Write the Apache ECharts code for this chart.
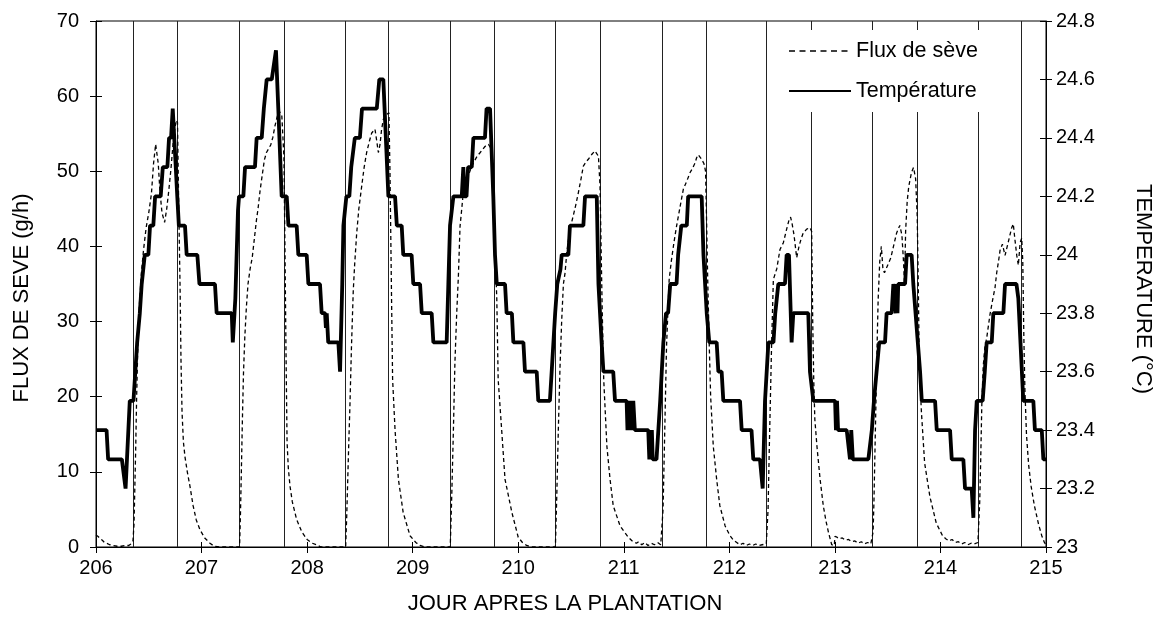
<!DOCTYPE html>
<html>
<head>
<meta charset="utf-8">
<script src="https://cdn.jsdelivr.net/npm/echarts@6.0.0/dist/echarts.min.js"></script>
<style>html,body{margin:0;padding:0;background:#fff}#chart{width:1168px;height:633px}</style>
</head>
<body>
<div id="chart"></div>
<script>
// ---------- tick labels ----------
const xTicks = [206, 207, 208, 209, 210, 211, 212, 213, 214, 215];
const leftTicks = ['0', '10', '20', '30', '40', '50', '60', '70'];
const rightTicks = ['23', '23.2', '23.4', '23.6', '23.8', '24', '24.2', '24.4', '24.6', '24.8'];

// ---------- sunrise / sunset (vertical lines) ----------
const sunrise = [206.353, 207.358, 208.359, 209.357, 210.351, 211.359, 212.354, 213.355, 214.359];
const sunset  = [206.770, 207.775, 208.769, 209.774, 210.778, 211.776, 212.780, 213.775, 214.770];

// ---------- sap flux (g/h), [day, value] ----------
const sap206 = [[206.00,1.6],[206.02,1.4],[206.04,1.1],[206.06,0.9],[206.08,0.6],[206.10,0.5],[206.13,0.3],[206.16,0.2],[206.20,0.1],[206.24,0.1],[206.28,0.2],[206.31,0.2],[206.33,0.4],[206.35,0.8],[206.36,3],[206.368,8],[206.376,13],[206.385,20],[206.395,26],[206.41,32],[206.43,36.5],[206.45,39.5],[206.475,42.5],[206.50,44.5],[206.525,47],[206.545,51],[206.565,53.6],[206.575,53.8],[206.59,51],[206.605,47.5],[206.625,44.5],[206.65,43.2],[206.67,45],[206.69,47.5],[206.71,50.3],[206.735,54.5],[206.76,56.8],[206.772,56.5],[206.782,47],[206.79,40],[206.797,34],[206.805,25],[206.815,18],[206.828,14],[206.843,12],[206.865,10],[206.89,8.1],[206.92,5.5],[206.95,3.6],[206.985,2.3]];
const sap207 = [[207.03,1.2],[207.08,0.5],[207.12,0.1],[207.18,0],[207.36,0],[207.368,4],[207.377,10],[207.387,17],[207.397,23],[207.41,28],[207.425,32],[207.44,35],[207.46,37],[207.48,38.5],[207.50,41],[207.52,43.5],[207.535,45],[207.555,47.5],[207.575,49.5],[207.595,51.5],[207.615,52.5],[207.635,53],[207.655,53.5],[207.675,54.5],[207.695,56],[207.715,57.2],[207.735,58],[207.76,57.5],[207.78,52],[207.79,40],[207.80,26],[207.81,14],[207.822,10.5],[207.838,8.1],[207.86,6],[207.90,3.7],[207.95,2],[208.0,1.0]];
const sap208 = [[208.05,0.5],[208.09,0.3],[208.13,0],[208.365,0],[208.375,4],[208.385,9],[208.395,14],[208.405,18.5],[208.42,26.5],[208.437,34],[208.45,37.5],[208.47,41.8],[208.49,45],[208.517,48],[208.54,50.5],[208.564,52.5],[208.59,54],[208.612,55.1],[208.643,55.6],[208.66,54],[208.675,52.5],[208.69,53.5],[208.705,55.5],[208.722,56.9],[208.75,57.5],[208.775,57.8],[208.785,50],[208.793,41],[208.80,33],[208.81,22.3],[208.833,15.6],[208.865,9],[208.91,4.6],[208.975,1.5]];
const sap209 = [[209.03,0.6],[209.07,0.2],[209.12,0],[209.356,0],[209.37,6.7],[209.386,15.6],[209.40,24.4],[209.417,31],[209.433,36],[209.449,42.7],[209.465,45],[209.48,47.2],[209.50,48],[209.53,49.5],[209.555,50.5],[209.575,51.1],[209.61,52],[209.64,52.5],[209.685,53.3],[209.717,53.6],[209.745,53],[209.76,51],[209.77,45],[209.785,38],[209.797,33],[209.81,22.3],[209.843,15.6],[209.875,9],[209.94,4.6]];
const sap210 = [[210.0,1.3],[210.04,0.6],[210.08,0.2],[210.13,0],[210.352,0],[210.365,6.7],[210.38,15.6],[210.396,24],[210.412,30.2],[210.428,35],[210.444,36.5],[210.46,39.2],[210.49,42.3],[210.52,44],[210.545,45.5],[210.569,47.1],[210.595,49],[210.617,50.7],[210.64,51.2],[210.664,51.6],[210.70,52.3],[210.727,52.7],[210.745,52.5],[210.76,52],[210.775,48],[210.785,40],[210.795,32],[210.81,22.3],[210.84,13.4],[210.87,9],[210.90,5.5],[210.965,2.8]];
const sap211 = [[211.043,1.3],[211.08,0.8],[211.12,0.5],[211.14,0.7],[211.17,0.3],[211.20,0.6],[211.23,0.2],[211.26,0.5],[211.29,0.3],[211.32,0.6],[211.35,0.3],[211.362,0.5],[211.372,5],[211.385,13.4],[211.405,26.7],[211.43,35.6],[211.45,38],[211.475,40.5],[211.50,42.7],[211.535,45.4],[211.564,47.6],[211.60,48.8],[211.627,49.8],[211.655,50.5],[211.675,51.1],[211.69,51.8],[211.706,52.2],[211.722,52],[211.738,51.6],[211.76,51],[211.775,50],[211.785,43],[211.795,35.6],[211.81,26.7],[211.823,20],[211.848,13.4],[211.88,9],[211.91,5.5],[211.96,2.8]];
const sap212 = [[212.006,1.5],[212.04,0.9],[212.07,0.6],[212.10,0.3],[212.13,0.5],[212.16,0.2],[212.19,0.4],[212.22,0.2],[212.25,0.4],[212.28,0.2],[212.31,0.3],[212.35,0.4],[212.358,0.5],[212.367,5],[212.379,13.4],[212.40,26.7],[212.417,35.6],[212.449,37],[212.48,39.6],[212.512,40.5],[212.543,42.3],[212.565,43.5],[212.58,43.9],[212.595,43],[212.613,41.5],[212.638,38.5],[212.66,40],[212.68,41],[212.70,41.8],[212.733,42.3],[212.764,42.5],[212.78,42],[212.79,30],[212.80,22],[212.81,17],[212.83,13.4],[212.86,9],[212.89,5.5],[212.915,3.5],[212.94,1.9],[212.97,0.3]];
const sap213 = [[212.995,0.2],[213.0,1.4],[213.02,1.3],[213.04,1.1],[213.07,1.2],[213.10,0.9],[213.13,1.0],[213.16,0.7],[213.19,0.8],[213.22,0.5],[213.25,0.7],[213.28,0.4],[213.31,0.6],[213.34,0.4],[213.355,0.6],[213.362,2],[213.37,6],[213.38,13],[213.39,20],[213.40,27],[213.41,33],[213.425,38],[213.44,40],[213.455,37],[213.47,36.5],[213.50,37.5],[213.53,38.5],[213.555,40],[213.585,41.8],[213.615,42.8],[213.635,41.5],[213.65,38],[213.66,35],[213.67,42],[213.685,46],[213.70,48],[213.725,49.8],[213.745,50.5],[213.765,49],[213.78,44],[213.79,35],[213.80,24],[213.82,17.9],[213.85,11.2],[213.90,6.7],[213.96,3.2]];
const sap214 = [[214.02,1.5],[214.05,1.1],[214.08,0.8],[214.11,1.0],[214.14,0.6],[214.17,0.7],[214.20,0.4],[214.23,0.6],[214.26,0.3],[214.29,0.5],[214.32,0.4],[214.355,0.6],[214.362,0.8],[214.372,6],[214.382,12],[214.392,19],[214.405,24],[214.42,26.5],[214.44,28],[214.47,31],[214.50,33.3],[214.517,34.5],[214.533,36.5],[214.55,38],[214.565,39.5],[214.587,40.3],[214.612,38.8],[214.643,40.6],[214.675,42.5],[214.69,43],[214.705,41],[214.723,38.8],[214.738,37.5],[214.755,40.5],[214.77,41.1],[214.78,38],[214.79,28],[214.80,21],[214.815,15],[214.835,11],[214.86,8],[214.89,5.5],[214.93,3],[214.96,1.5],[214.985,0.6],[215.0,0.3]];

// ---------- temperature (°C), [day, value] ----------
const temp206 = [[206.000,23.4],[206.100,23.4],[206.115,23.3],[206.245,23.3],[206.28,23.2],[206.32,23.5],[206.355,23.5],[206.39,23.7],[206.415,23.8],[206.433,23.9],[206.445,23.9],[206.462,24.0],[206.496,24.0],[206.512,24.1],[206.543,24.1],[206.56,24.2],[206.613,24.2],[206.633,24.3],[206.676,24.3],[206.692,24.4],[206.711,24.4],[206.727,24.5],[206.77,24.2],[206.785,24.1],[206.843,24.1],[206.859,24.0],[206.96,24.0],[206.98,23.9]];
const temp207 = [[207.127,23.9],[207.143,23.8],[207.286,23.8],[207.296,23.7],[207.32,23.85],[207.345,24.15],[207.355,24.2],[207.396,24.2],[207.412,24.3],[207.506,24.3],[207.522,24.4],[207.57,24.4],[207.59,24.5],[207.605,24.5],[207.617,24.6],[207.665,24.6],[207.705,24.7],[207.727,24.5],[207.759,24.2],[207.807,24.2],[207.823,24.1],[207.901,24.1],[207.917,24.0],[207.996,24.0]];
const temp208 = [[208.012,23.9],[208.122,23.9],[208.138,23.8],[208.17,23.8],[208.178,23.75],[208.186,23.8],[208.20,23.7],[208.296,23.7],[208.312,23.6],[208.333,23.9],[208.344,24.1],[208.359,24.1],[208.372,24.2],[208.40,24.2],[208.418,24.3],[208.435,24.3],[208.452,24.4],[208.50,24.4],[208.52,24.5],[208.66,24.5],[208.684,24.6],[208.722,24.6],[208.77,24.2],[208.833,24.2],[208.85,24.1],[208.896,24.1],[208.911,24.0],[208.99,24.0]];
const temp209 = [[209.006,23.9],[209.07,23.9],[209.086,23.8],[209.18,23.8],[209.196,23.7],[209.322,23.7],[209.338,23.9],[209.354,24.1],[209.386,24.2],[209.465,24.2],[209.48,24.3],[209.49,24.2],[209.51,24.2],[209.525,24.3],[209.56,24.3],[209.575,24.4],[209.685,24.4],[209.70,24.5],[209.733,24.5],[209.764,24.2],[209.78,24.0],[209.797,23.9],[209.875,23.9],[209.89,23.8],[209.94,23.8],[209.954,23.7]];
const temp210 = [[210.049,23.7],[210.064,23.6],[210.175,23.6],[210.19,23.5],[210.30,23.5],[210.317,23.6],[210.35,23.8],[210.37,23.9],[210.40,23.95],[210.412,24.0],[210.475,24.0],[210.49,24.1],[210.617,24.1],[210.633,24.2],[210.744,24.2],[210.76,23.9],[210.775,23.8],[210.79,23.7],[210.807,23.6],[210.90,23.6],[210.917,23.5],[211.027,23.5],[211.035,23.4],[211.045,23.5],[211.055,23.4],[211.065,23.5],[211.08,23.4],[211.09,23.5]];
const temp211 = [[211.105,23.4],[211.232,23.4],[211.242,23.3],[211.25,23.4],[211.258,23.3],[211.266,23.4],[211.274,23.3],[211.31,23.3],[211.345,23.5],[211.36,23.6],[211.375,23.7],[211.40,23.8],[211.42,23.8],[211.44,23.9],[211.50,23.9],[211.515,24.0],[211.53,24.0],[211.545,24.1],[211.597,24.1],[211.61,24.2],[211.738,24.2],[211.755,24.0],[211.786,23.8],[211.81,23.7],[211.88,23.7],[211.896,23.6],[211.927,23.6],[211.943,23.5]];
const temp212 = [[212.101,23.5],[212.117,23.4],[212.21,23.4],[212.227,23.3],[212.29,23.3],[212.316,23.2],[212.338,23.5],[212.37,23.7],[212.418,23.7],[212.435,23.8],[212.45,23.8],[212.464,23.9],[212.527,23.9],[212.543,24.0],[212.565,24.0],[212.59,23.7],[212.606,23.8],[212.748,23.8],[212.764,23.6],[212.78,23.6],[212.796,23.5],[213.002,23.5],[213.01,23.4],[213.02,23.5],[213.03,23.4]];
const temp213 = [[213.112,23.4],[213.143,23.3],[213.155,23.4],[213.17,23.3],[213.317,23.3],[213.35,23.4],[213.37,23.5],[213.395,23.6],[213.42,23.7],[213.475,23.7],[213.49,23.8],[213.538,23.8],[213.554,23.9],[213.57,23.9],[213.578,23.8],[213.585,23.9],[213.593,23.8],[213.60,23.9],[213.665,23.9],[213.68,24.0],[213.727,24.0],[213.743,23.9],[213.807,23.6],[213.823,23.5],[213.949,23.5],[213.965,23.4]];
const temp214 = [[214.091,23.4],[214.107,23.3],[214.217,23.3],[214.233,23.2],[214.296,23.2],[214.312,23.1],[214.328,23.4],[214.344,23.5],[214.40,23.5],[214.42,23.6],[214.438,23.7],[214.486,23.7],[214.501,23.8],[214.596,23.8],[214.612,23.9],[214.72,23.9],[214.738,23.85],[214.785,23.5],[214.88,23.5],[214.895,23.4],[214.96,23.4],[214.975,23.3],[215.0,23.3]];

const sapFlux = [].concat(sap206, sap207, sap208, sap209, sap210, sap211, sap212, sap213, sap214);
const temperature = [].concat(temp206, temp207, temp208, temp209, temp210, temp211, temp212, temp213, temp214);

const FONT = 'Liberation Sans, Arial, sans-serif';
const BLACK = '#000';

const chart = echarts.init(document.getElementById('chart'), null, {renderer: 'canvas'});

const tickText = {color: BLACK, fontFamily: FONT, fontSize: 20};
const titleText = {color: BLACK, fontFamily: FONT, fontSize: 22};

chart.setOption({
  animation: false,
  backgroundColor: '#fff',
  grid: {
    left: 96, right: 122, top: 21, bottom: 86,
    show: true, borderColor: BLACK, borderWidth: 1, backgroundColor: 'transparent',
    containLabel: false, outerBoundsMode: 'none'
  },
  legend: {
    data: [
      {name: 'Flux de sève', lineStyle: {type: [6, 4.5], width: 1.3, color: BLACK}},
      {name: 'Température'}
    ],
    orient: 'vertical',
    left: 780, top: 30,
    itemWidth: 62, itemHeight: 20, itemGap: 18,
    padding: [10, 12, 10, 8],
    backgroundColor: '#fff',
    borderWidth: 0,
    selectedMode: false,
    itemStyle: {opacity: 0},
    textStyle: {color: BLACK, fontFamily: FONT, fontSize: 21.5}
  },
  xAxis: [
    {
      type: 'value', min: 206, max: 215, interval: 1, position: 'bottom',
      axisLine: {show: true, onZero: false, lineStyle: {color: BLACK, width: 1}},
      axisTick: {show: true, inside: false, length: 6, lineStyle: {color: BLACK, width: 1}},
      axisLabel: Object.assign({margin: 11, showMinLabel: true, showMaxLabel: true,
        formatter: v => { const i = xTicks.indexOf(Math.round(v)); return i >= 0 ? String(xTicks[i]) : ''; }}, tickText),
      splitLine: {show: false},
      name: 'JOUR APRES LA PLANTATION', nameLocation: 'middle', nameGap: 46,
      nameTextStyle: Object.assign({padding: [0, 12, 0, 0]}, titleText)
    },
    {
      type: 'value', min: 206, max: 215, interval: 1, position: 'bottom', offset: 0,
      axisLine: {show: false, onZero: false},
      axisTick: {show: true, inside: true, length: 5, lineStyle: {color: BLACK, width: 1}},
      axisLabel: {show: false}, splitLine: {show: false}
    }
  ],
  yAxis: [
    {
      type: 'value', min: 0, max: 70, interval: 10, position: 'left',
      axisLine: {show: true, onZero: false, lineStyle: {color: BLACK, width: 1}},
      axisTick: {show: true, inside: false, length: 6, lineStyle: {color: BLACK, width: 1}},
      axisLabel: Object.assign({margin: 17, showMinLabel: true, showMaxLabel: true,
        formatter: v => leftTicks[Math.round(v / 10)]}, tickText),
      splitLine: {show: false},
      name: 'FLUX DE SEVE (g/h)', nameLocation: 'middle', nameGap: 63, nameRotate: 90,
      nameTextStyle: Object.assign({padding: [0, 28, 0, 0]}, titleText)
    },
    {
      type: 'value', min: 23, max: 24.8, interval: 0.2, position: 'right',
      axisLine: {show: true, onZero: false, lineStyle: {color: BLACK, width: 1}},
      axisTick: {show: true, inside: false, length: 6, lineStyle: {color: BLACK, width: 1}},
      axisLabel: Object.assign({margin: 10, showMinLabel: true, showMaxLabel: true,
        formatter: v => rightTicks[Math.round((v - 23) / 0.2)]}, tickText),
      splitLine: {show: false},
      name: 'TEMPERATURE (°C)', nameLocation: 'middle', nameGap: 86, nameRotate: -90,
      nameTextStyle: Object.assign({padding: [0, 0, 0, 10]}, titleText)
    },
    {
      type: 'value', min: 0, max: 70, interval: 10, position: 'left', offset: 0,
      axisLine: {show: false, onZero: false},
      axisTick: {show: true, inside: true, length: 6, lineStyle: {color: BLACK, width: 1}},
      axisLabel: {show: false}, splitLine: {show: false}
    },
    {
      type: 'value', min: 23, max: 24.8, interval: 0.2, position: 'right', offset: 0,
      axisLine: {show: false, onZero: false},
      axisTick: {show: true, inside: true, length: 6, lineStyle: {color: BLACK, width: 1}},
      axisLabel: {show: false}, splitLine: {show: false}
    }
  ],
  series: [
    {
      name: 'Flux de sève', type: 'line', xAxisIndex: 0, yAxisIndex: 0,
      data: sapFlux, symbol: 'none', showSymbol: false, smooth: false, z: 3,
      lineStyle: {color: BLACK, width: 1.3, type: [4, 3]},
      itemStyle: {color: BLACK},
      emphasis: {disabled: true},
      markLine: {
        silent: true, symbol: ['none', 'none'], z: 1, animation: false,
        label: {show: false},
        emphasis: {disabled: true},
        lineStyle: {color: '#222', width: 1, type: 'solid'},
        data: sunrise.concat(sunset).map(v => ({xAxis: v}))
      }
    },
    {
      name: 'Température', type: 'line', xAxisIndex: 0, yAxisIndex: 1,
      data: temperature, symbol: 'none', showSymbol: false, smooth: false, z: 4,
      lineStyle: {color: BLACK, width: 3.8, type: 'solid'},
      itemStyle: {color: BLACK},
      emphasis: {disabled: true}
    }
  ]
});
</script>
</body>
</html>
